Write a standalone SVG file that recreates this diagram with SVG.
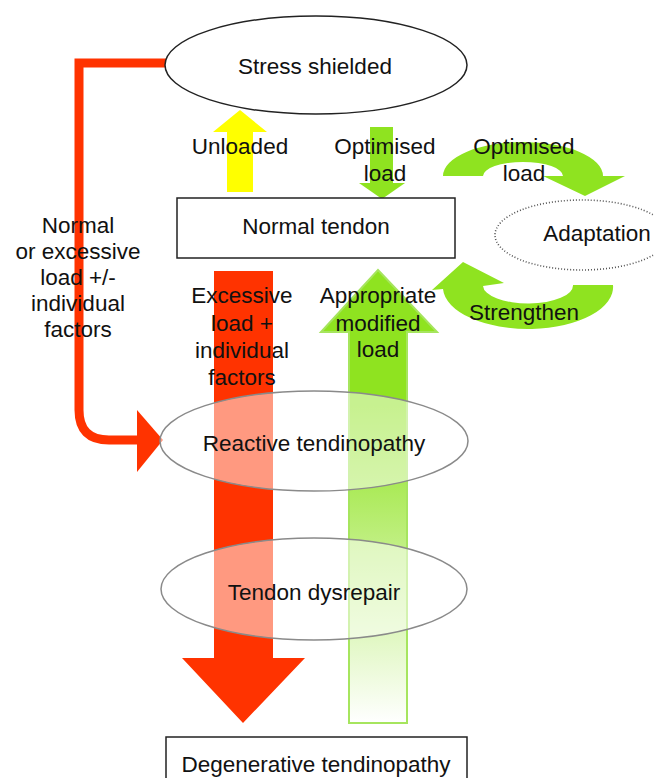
<svg xmlns="http://www.w3.org/2000/svg" width="654" height="778" viewBox="0 0 654 778">
<style>
  text { font-family: "Liberation Sans", Arial, sans-serif; font-size: 22.5px; fill: #111; text-anchor: middle; }
  .solid { fill: #fff; stroke: #222; stroke-width: 1.5; }
  .soft { fill: #fff; fill-opacity: 0.5; stroke: #8a8a8a; stroke-width: 1.5; }
  .dotted { fill: #fff; stroke: #555; stroke-width: 1.6; stroke-dasharray: 1 2; }
  .green { fill: #8fe320; }
  .red { fill: #ff3300; }
</style>
<defs>
  <linearGradient id="gfade" x1="0" y1="0" x2="0" y2="1">
    <stop offset="0" stop-color="#8fe320"/>
    <stop offset="0.3" stop-color="#8fe320"/>
    <stop offset="1" stop-color="#ffffff"/>
  </linearGradient>
</defs>

<g id="connectors">
  <!-- left L-shaped red connector -->
  <path d="M166,63 H79 V410 Q79,440 109,440 H140" fill="none" stroke="#ff3300" stroke-width="9"/>
  <polygon class="red" points="137,410 163,440 137,472"/>
  <!-- yellow unloaded arrow -->
  <polygon fill="#ffff00" points="227,192 253,192 253,132 267,132 240,110 213,132 227,132"/>
  <!-- green optimised load down arrow -->
  <polygon class="green" points="370,127 393,127 393,183 405,183 382,199 359,183 370,183"/>
  <!-- top-right curved arrow -->
  <path class="green" d="M443,176 A80,34 0 0 1 603,176 L625,176 L585,196 L543,176 L563,176 A40,14 0 0 0 483,176 Z"/>
  <!-- bottom-right curved arrow -->
  <path class="green" d="M613,285 A85,42 0 0 1 443,289 L432,290 L463,262 L504,283 L483,286 A45,18 0 0 0 573,285 Z"/>
  <!-- big red down arrow -->
  <polygon class="red" points="214,271 273,271 273,658 305,658 243,723 182,658 214,658"/>
  <!-- big green up arrow -->
  <polygon fill="url(#gfade)" stroke="#a6e55e" stroke-width="2" points="349,723 407,723 407,332 437,332 378,270 321,332 349,332"/>
</g>

<g id="stress-shielded">
  <ellipse class="solid" cx="316" cy="65" rx="151" ry="49"/>
  <text x="315" y="74">Stress shielded</text>
</g>

<g id="normal-tendon">
  <rect class="solid" x="177" y="198" width="278" height="60"/>
  <text x="316" y="234">Normal tendon</text>
</g>

<g id="adaptation">
  <ellipse class="dotted" cx="582" cy="235" rx="87" ry="35"/>
  <text x="597" y="241">Adaptation</text>
</g>

<g id="reactive-tendinopathy">
  <ellipse class="soft" cx="314" cy="441" rx="154" ry="50"/>
  <text x="314" y="451">Reactive tendinopathy</text>
</g>

<g id="tendon-dysrepair">
  <ellipse class="soft" cx="314" cy="589" rx="153" ry="51"/>
  <text x="314" y="600">Tendon dysrepair</text>
</g>

<g id="degenerative-tendinopathy">
  <rect class="solid" x="166" y="737" width="301" height="60"/>
  <text x="316" y="772">Degenerative tendinopathy</text>
</g>

<g id="labels">
  <text x="240" y="154">Unloaded</text>
  <text x="385" y="154">Optimised</text>
  <text x="385" y="181">load</text>
  <text x="524" y="154">Optimised</text>
  <text x="524" y="181">load</text>
  <text x="524" y="320">Strengthen</text>
  <text x="78" y="233">Normal</text>
  <text x="78" y="259">or excessive</text>
  <text x="78" y="285">load +/-</text>
  <text x="78" y="311">individual</text>
  <text x="78" y="337">factors</text>
  <text x="242" y="303">Excessive</text>
  <text x="242" y="331">load +</text>
  <text x="242" y="358">individual</text>
  <text x="242" y="385">factors</text>
  <text x="378" y="303">Appropriate</text>
  <text x="378" y="331">modified</text>
  <text x="378" y="357">load</text>
</g>
</svg>
